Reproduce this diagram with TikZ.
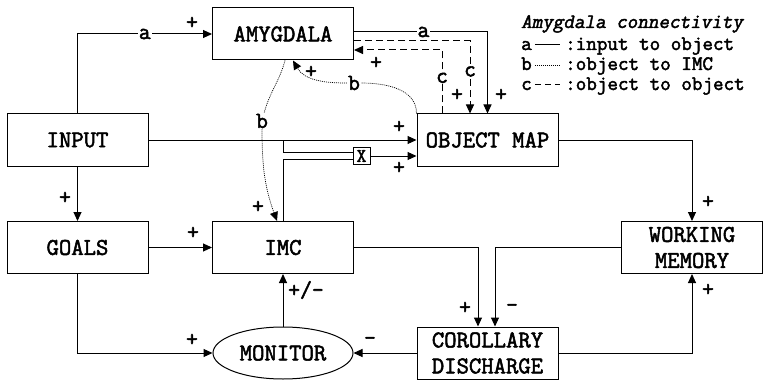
\documentclass[tikz,border=0pt]{standalone}
\usepackage{fontspec}
\setmonofont{Latin Modern Mono}[AutoFakeBold=2.2,AutoFakeSlant=0.2]
\usetikzlibrary{arrows.meta,shapes.geometric}

\begin{document}
\begin{tikzpicture}[x=1pt,y=1pt,
    box/.style={draw,line width=1pt,minimum width=141pt,minimum height=52pt,inner sep=0pt,align=center,
      font=\ttfamily\bfseries\fontsize{24}{26}\selectfont},
    lab/.style={font=\ttfamily\bfseries\fontsize{23}{23}\selectfont,inner sep=1pt},
    key/.style={font=\ttfamily\bfseries\fontsize{20.5}{20.5}\selectfont,inner sep=0pt,anchor=base west},
    ln/.style={line width=1pt},
    arr/.style={line width=1pt,-{Triangle[length=9pt,width=8pt]}},
    dot/.style={line width=0.7pt,dash pattern=on 1pt off 1pt},
    dsh/.style={dash pattern=on 7pt off 4pt}]
  \useasboundingbox (0,0) rectangle (763,381);

  % blocks
  \node[box] (amy) at (283,347) {AMYGDALA};
  \node[box] (input) at (77.5,241) {INPUT};
  \node[box] (obj) at (487.5,241) {OBJECT MAP};
  \node[box] (goals) at (77.5,133.5) {GOALS};
  \node[box] (imc) at (283,133.5) {IMC};
  \node[box] (wm) at (692,133.5) {WORKING\\MEMORY};
  \node[box] (cd) at (487.5,28) {COROLLARY\\DISCHARGE};
  \node[box,ellipse,minimum width=140pt,minimum height=52pt] (mon) at (283,28) {MONITOR};
  \node[draw,ln,minimum size=17pt,inner sep=0pt,font=\ttfamily\bfseries\fontsize{19}{19}\selectfont] (gate) at (361.5,225) {X};

  % main pathways
  \draw[arr] (input.north) |- node[lab,fill=white,pos=0.75] (la1) {a} (amy.west);
  \draw[arr] (input.east) -- (obj.west);
  \coordinate (br) at (283,241);
  \draw[ln] (br) |- ([yshift=3.5pt]gate.west);
  \draw[ln] (imc.north) |- ([yshift=-3.5pt]gate.west);
  \draw[arr] (gate.east) -- (gate.east -| obj.west);
  \draw[arr] (input) -- (goals);
  \draw[arr] (goals) -- (imc);
  \draw[arr] (goals.south) |- (mon.west);
  \draw[arr] (mon) -- (imc);
  \draw[arr] (imc.east) -| ([xshift=-9.5pt]cd.north);
  \draw[arr] (wm.west) -| ([xshift=7.5pt]cd.north);
  \draw[arr] (cd.west) -- (mon.east);
  \draw[arr] (cd.east) -| (wm.south);
  \draw[arr] (obj.east) -| (wm.north);

  % amygdala connectivity
  \draw[arr] ([yshift=2pt]amy.east) -| node[lab,fill=white,pos=0.26] (la2) {a} (obj.north);
  \draw[arr,dsh] ([yshift=-7pt]amy.east) -| node[lab,fill=white,pos=0.71] (lc1) {c} ([xshift=-17.5pt]obj.north);
  \draw[arr,dsh] ([xshift=-45.5pt]obj.north) |- node[lab,fill=white,pos=0.28] (lc2) {c} ([yshift=-16pt]amy.east);
  \node[lab,fill=white] (lb1) at (354,298) {b};
  \draw[dot] (obj.north west) to[out=90,in=0] (lb1);
  \draw[dot,-{Triangle[length=9pt,width=8pt]}] (lb1) to[out=180,in=-60] ([xshift=10pt]amy.south);
  \node[lab,fill=white] (lb2) at (262,260) {b};
  \draw[dot] ([xshift=2pt]amy.south) to[out=-105,in=75] (lb2);
  \draw[dot,-{Triangle[length=9pt,width=8pt]}] (lb2) to[out=-90,in=110] ([xshift=-6pt]imc.north);

  % signs
  \node[lab] (s1) at (192,358) {+};
  \node[lab] (s2) at (399,254) {+};
  \node[lab] (s3) at (399,213) {+};
  \node[lab] (s4) at (65,183) {+};
  \node[lab] (s5) at (193,148) {+};
  \node[lab] (s6) at (192,41) {+};
  \node[lab] (s7) at (306,91) {+/-};
  \node[lab] (s8) at (465,73) {+};
  \node[lab] (s9) at (512,73) {-};
  \node[lab] (s10) at (370,40) {-};
  \node[lab] (s11) at (708,91) {+};
  \node[lab] (s12) at (708,179) {+};
  \node[lab] (s13) at (501,286) {+};
  \node[lab] (s14) at (457,286) {+};
  \node[lab] (s15) at (376,318) {+};
  \node[lab] (s16) at (311,309) {+};
  \node[lab] (s17) at (258,174) {+};

  % legend
  \node[key,font=\ttfamily\bfseries\itshape\fontsize{20.5}{20.5}\selectfont] (ltitle) at (521,353) {Amygdala connectivity};
  \node[key] (ka) at (521,331) {a};
  \node[key] (da) at (565,331) {:input to object};
  \node[key] (kb) at (521,311) {b};
  \node[key] (db) at (565,311) {:object to IMC};
  \node[key] (kc) at (521,291) {c};
  \node[key] (dc) at (565,291) {:object to object};
  \draw[ln,shorten <=3pt,shorten >=5pt] ([yshift=5pt]ka.base east) -- ([yshift=5pt]da.base west);
  \draw[dot,shorten <=3pt,shorten >=5pt] ([yshift=5pt]kb.base east) -- ([yshift=5pt]db.base west);
  \draw[ln,dash pattern=on 6pt off 4pt,shorten <=3pt,shorten >=5pt] ([yshift=5pt]kc.base east) -- ([yshift=5pt]dc.base west);
\end{tikzpicture}
\end{document}
